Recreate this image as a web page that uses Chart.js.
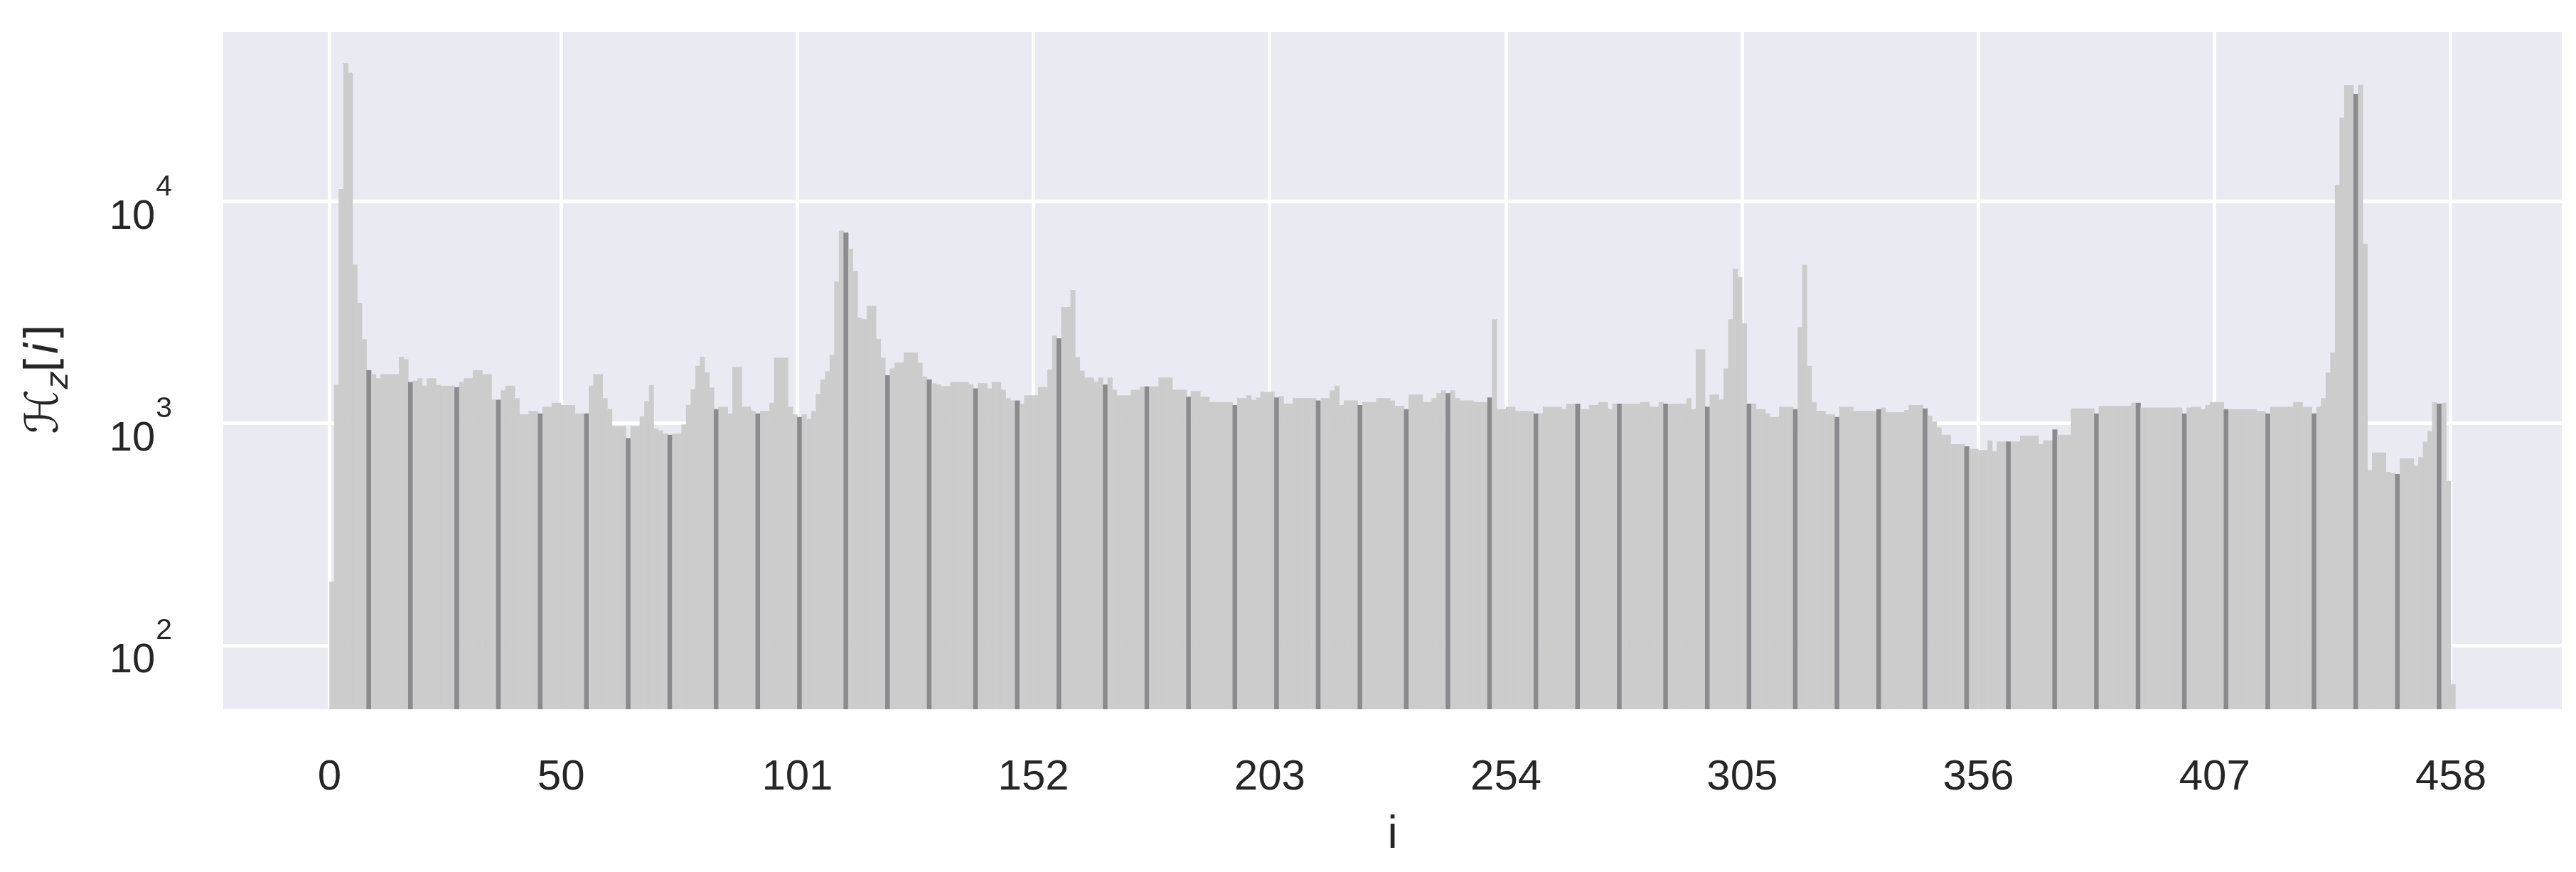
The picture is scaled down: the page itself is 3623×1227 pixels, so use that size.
<!DOCTYPE html>
<html>
<head>
<meta charset="utf-8">
<script src="https://cdn.jsdelivr.net/npm/chart.js@4"></script>
<style>
  html, body { margin: 0; padding: 0; background: #fff; }
  canvas { display: block; }
</style>
</head>
<body>
<canvas id="histChart" width="3623" height="1227"></canvas>
<script>
// tick labels of the original figure
const xTickValues = [0, 50, 101, 152, 203, 254, 305, 356, 407, 458];
const yTickValues = [100, 1000, 10000];
const yTickExponents = ["2", "3", "4"];

// H_z[i], one count per bin i = 0..458
const counts = [
  194, 1500, 11400, 42000, 38000, 5200, 3500, 2400, 1740, 1670,
  1600, 1670, 1670, 1670, 1670, 2000, 1950, 1540, 1560, 1600,
  1480, 1600, 1600, 1490, 1480, 1480, 1480, 1460, 1540, 1600,
  1600, 1740, 1740, 1670, 1670, 1280, 1280, 1410, 1480, 1480,
  1300, 1100, 1100, 1140, 1140, 1110, 1190, 1190, 1240, 1240,
  1210, 1210, 1210, 1110, 1110, 1110, 1480, 1670, 1670, 1300,
  1160, 975, 975, 975, 860, 975, 975, 1080, 1260, 1490,
  950, 930, 900, 890, 900, 900, 990, 1210, 1430, 1820,
  2000, 1700, 1450, 1160, 1190, 1190, 1110, 1800, 1800, 1190,
  1190, 1140, 1110, 1140, 1140, 1240, 1980, 1980, 1980, 1190,
  1100, 1070, 1100, 1050, 1140, 1360, 1580, 1720, 2040, 4360,
  7400, 7250, 6120, 4880, 3000, 2950, 3390, 3390, 2410, 1980,
  1650, 1770, 1880, 1880, 2090, 2090, 2090, 1880, 1630, 1580,
  1520, 1500, 1475, 1475, 1540, 1540, 1540, 1540, 1500, 1440,
  1520, 1520, 1440, 1540, 1540, 1420, 1300, 1270, 1270, 1230,
  1340, 1340, 1340, 1460, 1460, 1750, 2490, 2420, 3350, 3350,
  4000, 1990, 1730, 1610, 1610, 1540, 1610, 1500, 1610, 1420,
  1340, 1340, 1340, 1420, 1420, 1470, 1470, 1470, 1470, 1610,
  1610, 1610, 1420, 1420, 1420, 1320, 1400, 1400, 1320, 1320,
  1250, 1250, 1250, 1250, 1250, 1210, 1300, 1300, 1340, 1280,
  1310, 1390, 1390, 1390, 1310, 1330, 1230, 1230, 1300, 1300,
  1300, 1300, 1300, 1270, 1300, 1300, 1410, 1480, 1210, 1270,
  1270, 1270, 1210, 1250, 1250, 1250, 1300, 1300, 1300, 1270,
  1200, 1200, 1160, 1350, 1350, 1350, 1250, 1250, 1300, 1370,
  1410, 1370, 1410, 1300, 1270, 1270, 1270, 1250, 1250, 1250,
  1310, 2950, 1160, 1160, 1190, 1190, 1140, 1140, 1140, 1140,
  1110, 1110, 1190, 1190, 1190, 1190, 1160, 1230, 1230, 1230,
  1160, 1160, 1210, 1210, 1250, 1250, 1160, 1230, 1230, 1230,
  1230, 1230, 1230, 1250, 1250, 1190, 1190, 1250, 1230, 1230,
  1230, 1230, 1230, 1300, 1160, 2160, 2160, 1190, 1350, 1350,
  1280, 1770, 2950, 4970, 4570, 2830, 1230, 1230, 1160, 1160,
  1110, 1070, 1070, 1190, 1190, 1190, 1160, 2710, 5190, 1820,
  1250, 1140, 1140, 1100, 1100, 1070, 1190, 1190, 1190, 1140,
  1140, 1140, 1140, 1140, 1160, 1180, 1125, 1125, 1125, 1125,
  1150, 1210, 1210, 1210, 1170, 1085, 1020, 960, 890, 890,
  807, 807, 807, 790, 770, 770, 760, 760, 840, 750,
  830, 830, 830, 830, 830, 880, 880, 880, 880, 807,
  840, 840, 940, 890, 890, 890, 1170, 1170, 1170, 1170,
  1170, 1110, 1200, 1200, 1200, 1200, 1200, 1200, 1200, 1240,
  1240, 1180, 1180, 1180, 1180, 1180, 1180, 1180, 1180, 1180,
  1110, 1180, 1190, 1190, 1160, 1210, 1250, 1250, 1250, 1160,
  1160, 1160, 1160, 1160, 1160, 1160, 1140, 1140, 1110, 1190,
  1190, 1190, 1190, 1190, 1250, 1250, 1190, 1190, 1110, 1190,
  1300, 1700, 2090, 11900, 23900, 33500, 33500, 30600, 33500, 6460,
  617, 740, 740, 740, 605, 600, 592, 697, 697, 697,
  645, 706, 828, 927, 1250, 1230, 1240, 551, 67
];

// the low-res original shows a darker bar edge about every 9.3 bins
const edgeBins = new Set();
for (let k = 0; k < 49; k++) edgeBins.add(Math.round(8.12 + 9.32 * k));

const BAR = "#cccccc";
const EDGE = "#8b8b8f";
const TEXT = "#262626";
const SANS = '"Liberation Sans", Arial, sans-serif';

const points = counts.map((c, i) => ({ x: i + 0.5, y: c }));

const fixedTicks = (values) => (scale) => {
  scale.ticks = values.map((v) => ({ value: v }));
};

const xAxis = (over) => ({
  type: "linear",
  axis: "x",
  position: "bottom",
  min: -22.95,
  max: 481.95,
  offset: false,
  z: over ? 1 : 0,
  afterBuildTicks: fixedTicks(xTickValues),
  grid: {
    color: over ? "rgba(255,255,255,0.22)" : "#ffffff",
    lineWidth: 5,
    drawTicks: false,
    offset: false,
  },
  border: { display: false },
  ticks: { display: false },
});

const yAxis = (over) => ({
  type: "logarithmic",
  axis: "y",
  position: "left",
  min: 51.6,
  max: 58100,
  z: over ? 1 : 0,
  afterBuildTicks: fixedTicks(yTickValues),
  grid: {
    color: over ? "rgba(255,255,255,0.22)" : "#ffffff",
    lineWidth: 5,
    drawTicks: false,
  },
  border: { display: false },
  ticks: { display: false },
});

const frame = {
  id: "frame",
  beforeDraw(chart) {
    const { ctx, chartArea: a } = chart;
    ctx.save();
    ctx.fillStyle = "#ffffff";
    ctx.fillRect(0, 0, chart.width, chart.height);
    ctx.fillStyle = "#eaeaf2";
    ctx.fillRect(a.left, a.top, a.right - a.left, a.bottom - a.top);
    ctx.restore();
  },
  afterDraw(chart) {
    const { ctx, chartArea: a, scales } = chart;
    ctx.save();
    ctx.fillStyle = TEXT;
    ctx.textBaseline = "alphabetic";

    // x tick labels
    ctx.font = "60px " + SANS;
    ctx.textAlign = "center";
    xTickValues.forEach((v) => {
      ctx.fillText(String(v), scales.x.getPixelForValue(v), a.bottom + 113);
    });

    // y tick labels 10^n
    ctx.textAlign = "right";
    yTickValues.forEach((v, i) => {
      const y = scales.y.getPixelForValue(v);
      const right = a.left - 72;
      ctx.font = "41px " + SANS;
      const supW = ctx.measureText(yTickExponents[i]).width;
      ctx.fillText(yTickExponents[i], right, y - 9);
      ctx.font = "58px " + SANS;
      ctx.fillText("10", right - supW - 1, y + 38);
    });

    // x title
    ctx.font = "64px " + SANS;
    ctx.textAlign = "center";
    ctx.fillText("i", (a.left + a.right) / 2, a.bottom + 195);

    // y title: H_z[i] in math style, rotated
    const parts = [
      { t: "\u210B", f: '64px "DejaVu Sans"', dy: 0 },
      { t: "z", f: 'italic 45px "DejaVu Sans"', dy: 14 },
      { t: "[", f: '64px "DejaVu Sans"', dy: 0 },
      { t: "i", f: 'italic 64px "DejaVu Sans"', dy: 0 },
      { t: "]", f: '64px "DejaVu Sans"', dy: 0 },
    ];
    let total = 0;
    parts.forEach((p) => {
      ctx.font = p.f;
      p.w = ctx.measureText(p.t).width;
      total += p.w;
    });
    ctx.translate(81, (a.top + a.bottom) / 2 + 12);
    ctx.rotate(-Math.PI / 2);
    ctx.textAlign = "left";
    let cx = -total / 2;
    parts.forEach((p) => {
      ctx.font = p.f;
      ctx.fillText(p.t, cx, p.dy);
      cx += p.w;
    });
    ctx.restore();
  },
};

new Chart(document.getElementById("histChart"), {
  type: "bar",
  data: {
    datasets: [
      {
        data: points,
        backgroundColor: (c) => (edgeBins.has(c.dataIndex) ? EDGE : BAR),
        borderWidth: 0,
        barPercentage: 1.08,
        categoryPercentage: 1,
      },
    ],
  },
  options: {
    responsive: false,
    animation: false,
    devicePixelRatio: 1,
    layout: { padding: { left: 314, right: 20, top: 45, bottom: 229 } },
    plugins: { legend: { display: false }, tooltip: { enabled: false } },
    scales: {
      x: xAxis(false),
      y: yAxis(false),
      xOver: xAxis(true),
      yOver: yAxis(true),
    },
  },
  plugins: [frame],
});
</script>
</body>
</html>
